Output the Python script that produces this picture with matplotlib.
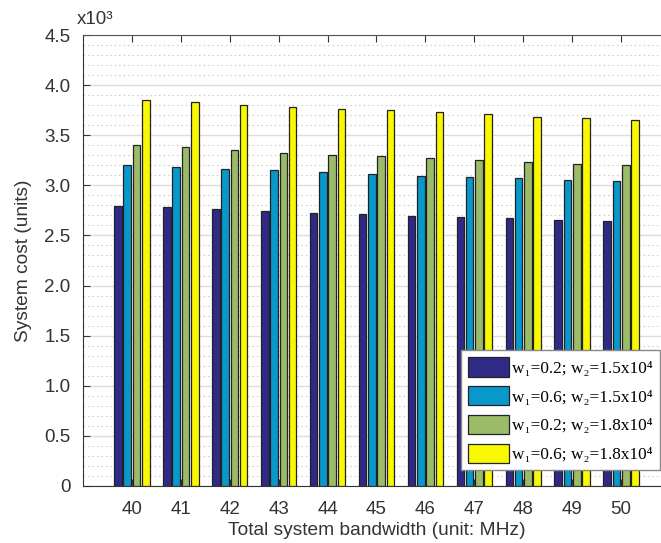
import numpy as np
import matplotlib
matplotlib.use("Agg")
import matplotlib.pyplot as plt
from matplotlib.ticker import MultipleLocator, FuncFormatter

bandwidth = [40, 41, 42, 43, 44, 45, 46, 47, 48, 49, 50]
cost_a = [2.79, 2.78, 2.76, 2.74, 2.72, 2.71, 2.69, 2.68, 2.67, 2.65, 2.64]
cost_b = [3.20, 3.18, 3.16, 3.15, 3.13, 3.11, 3.09, 3.08, 3.07, 3.05, 3.04]
cost_c = [3.40, 3.38, 3.35, 3.32, 3.30, 3.29, 3.27, 3.25, 3.23, 3.21, 3.20]
cost_d = [3.85, 3.83, 3.80, 3.78, 3.76, 3.75, 3.73, 3.71, 3.68, 3.67, 3.65]
labels = ["w\u2081=0.2; w\u2082=1.5x10\u2074",
          "w\u2081=0.6; w\u2082=1.5x10\u2074",
          "w\u2081=0.2; w\u2082=1.8x10\u2074",
          "w\u2081=0.6; w\u2082=1.8x10\u2074"]
colors = ["#2f2a85", "#0898cc", "#9cbb69", "#f8f800"]

plt.rcParams["font.family"] = ["Liberation Sans", "DejaVu Sans"]

fig = plt.figure(figsize=(6.61, 5.43), dpi=100)
ax = fig.add_axes([83 / 661, 57 / 543, 587 / 661, 451 / 543])

x = np.array(bandwidth)
step = 0.19
width = 0.155
series = [cost_a, cost_b, cost_c, cost_d]
for i, vals in enumerate(series):
    ax.bar(x + (i - 1.5) * step, vals, width, color=colors[i],
           edgecolor="#222222", linewidth=0.9, label=labels[i], zorder=3)

ax.set_xlim(39, 51)
ax.set_ylim(0, 4.5)
ax.set_xticks(bandwidth)
ax.yaxis.set_major_locator(MultipleLocator(0.5))
ax.yaxis.set_minor_locator(MultipleLocator(0.1))
ax.yaxis.set_major_formatter(FuncFormatter(lambda v, p: "0" if abs(v) < 1e-9 else "%.1f" % v))
ax.grid(True, which="major", axis="y", color="#dddddd", linewidth=1.0, zorder=0)
ax.grid(True, which="minor", axis="y", color="#d0d0d0", linewidth=0.8,
        linestyle=(0, (1.5, 2.5)), zorder=0)
ax.tick_params(axis="both", which="both", direction="in", labelsize=13.5,
               colors="#333333", top=True, right=False)
ax.tick_params(axis="y", which="minor", length=0)
ax.tick_params(axis="x", which="major", length=5, pad=11)
ax.tick_params(axis="y", which="major", length=5, pad=9)
ax.spines["right"].set_visible(False)
ax.spines["top"].set_color("#555555")
for s in ["left", "bottom"]:
    ax.spines[s].set_color("#333333")

ax.set_xlabel("Total system bandwidth (unit: MHz)", fontsize=13.8, color="#333333",
              labelpad=3)
ax.set_ylabel("System cost (units)", fontsize=13.8, color="#333333", labelpad=9)
ax.text(-0.01, 1.015, "x10\u00b3", transform=ax.transAxes, fontsize=13.5,
        color="#333333", ha="left", va="bottom")

leg = ax.legend(loc="lower right", bbox_to_anchor=(0.983, 0.035), borderaxespad=0,
                prop={"family": ["Liberation Serif", "DejaVu Serif"], "size": 12.4},
                handlelength=2.4, handleheight=1.35, handletextpad=0.2,
                labelspacing=0.55, borderpad=0.4, fancybox=False, framealpha=1)
leg.get_frame().set_edgecolor("#888888")
leg.get_frame().set_linewidth(1.0)

fig.savefig("out.png", dpi=100)
